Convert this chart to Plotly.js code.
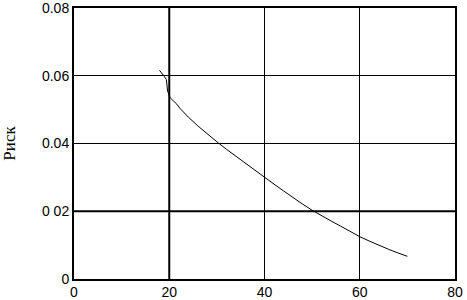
<!DOCTYPE html>
<html>
<head>
<meta charset="utf-8">
<script src="https://cdn.plot.ly/plotly-3.0.1.min.js"></script>
<style>html,body{margin:0;padding:0;background:#fff;}#chart{width:467px;height:300px;}</style>
</head>
<body>
<div id="chart"></div>
<script>
const ageX = [17.96, 18.46, 18.95, 19.4, 19.5, 19.65, 20.2, 20.9, 21.6, 22.3, 24, 26, 28, 30, 32, 34, 36, 38, 40, 42, 44, 46, 48, 50, 52, 54, 56, 58, 60, 62, 64, 66, 68, 70];
const riskY = [0.0616, 0.0608, 0.0598, 0.0589, 0.0569, 0.0555, 0.0535, 0.0526, 0.0516, 0.0503, 0.0478, 0.0452, 0.0428, 0.0405, 0.0383, 0.0362, 0.0341, 0.0320, 0.0300, 0.0280, 0.0260, 0.0240, 0.0221, 0.0203, 0.0186, 0.0171, 0.0156, 0.0140, 0.0125, 0.0112, 0.0099, 0.0088, 0.0077, 0.0067];
const xTicks = [0, 20, 40, 60, 80];
const yTicks = [0, 0.02, 0.04, 0.06, 0.08];
const yTickText = ["0", "0 02", "0.04", "0.06", "0.08"];
const yTitle = "Риск";

const tickFont = {family: "Liberation Sans, Arial, sans-serif", size: 14, color: "#000"};
const xTickFont = {family: "Liberation Sans, Arial, sans-serif", size: 14, color: "#000"};

Plotly.newPlot("chart", [{
  x: ageX, y: riskY, type: "scatter", mode: "lines",
  line: {color: "#000", width: 1}
}], {
  width: 467, height: 300,
  margin: {l: 74, r: 12, t: 8, b: 21},
  paper_bgcolor: "#fff", plot_bgcolor: "#fff",
  showlegend: false,
  shapes: [
    {type: "line", xref: "x", yref: "paper", x0: xTicks[1], x1: xTicks[1], y0: 0, y1: 1, line: {color: "#000", width: 2}, layer: "below"},
    {type: "line", xref: "paper", yref: "y", x0: 0, x1: 1, y0: yTicks[1], y1: yTicks[1], line: {color: "#000", width: 2}, layer: "below"}
  ],
  xaxis: {
    range: [0, 80], tickvals: xTicks, ticktext: xTicks.map(String),
    showgrid: true, gridcolor: "#000", gridwidth: 1,
    showline: true, mirror: true, linecolor: "#000", linewidth: 2,
    zeroline: false, ticks: "", tickfont: xTickFont, ticklabeloverflow: "allow",
    ticklabelstandoff: -1
  },
  yaxis: {
    range: [0, 0.08], tickvals: yTicks, ticktext: yTickText,
    showgrid: true, gridcolor: "#000", gridwidth: 1,
    showline: true, mirror: true, linecolor: "#000", linewidth: 2,
    zeroline: false, ticks: "", tickfont: tickFont, ticklabeloverflow: "allow",
    title: {text: yTitle, font: {family: "Liberation Serif, Times New Roman, serif", size: 17, color: "#000"}, standoff: 22}
  }
}, {staticPlot: true, displayModeBar: false});
</script>
</body>
</html>
